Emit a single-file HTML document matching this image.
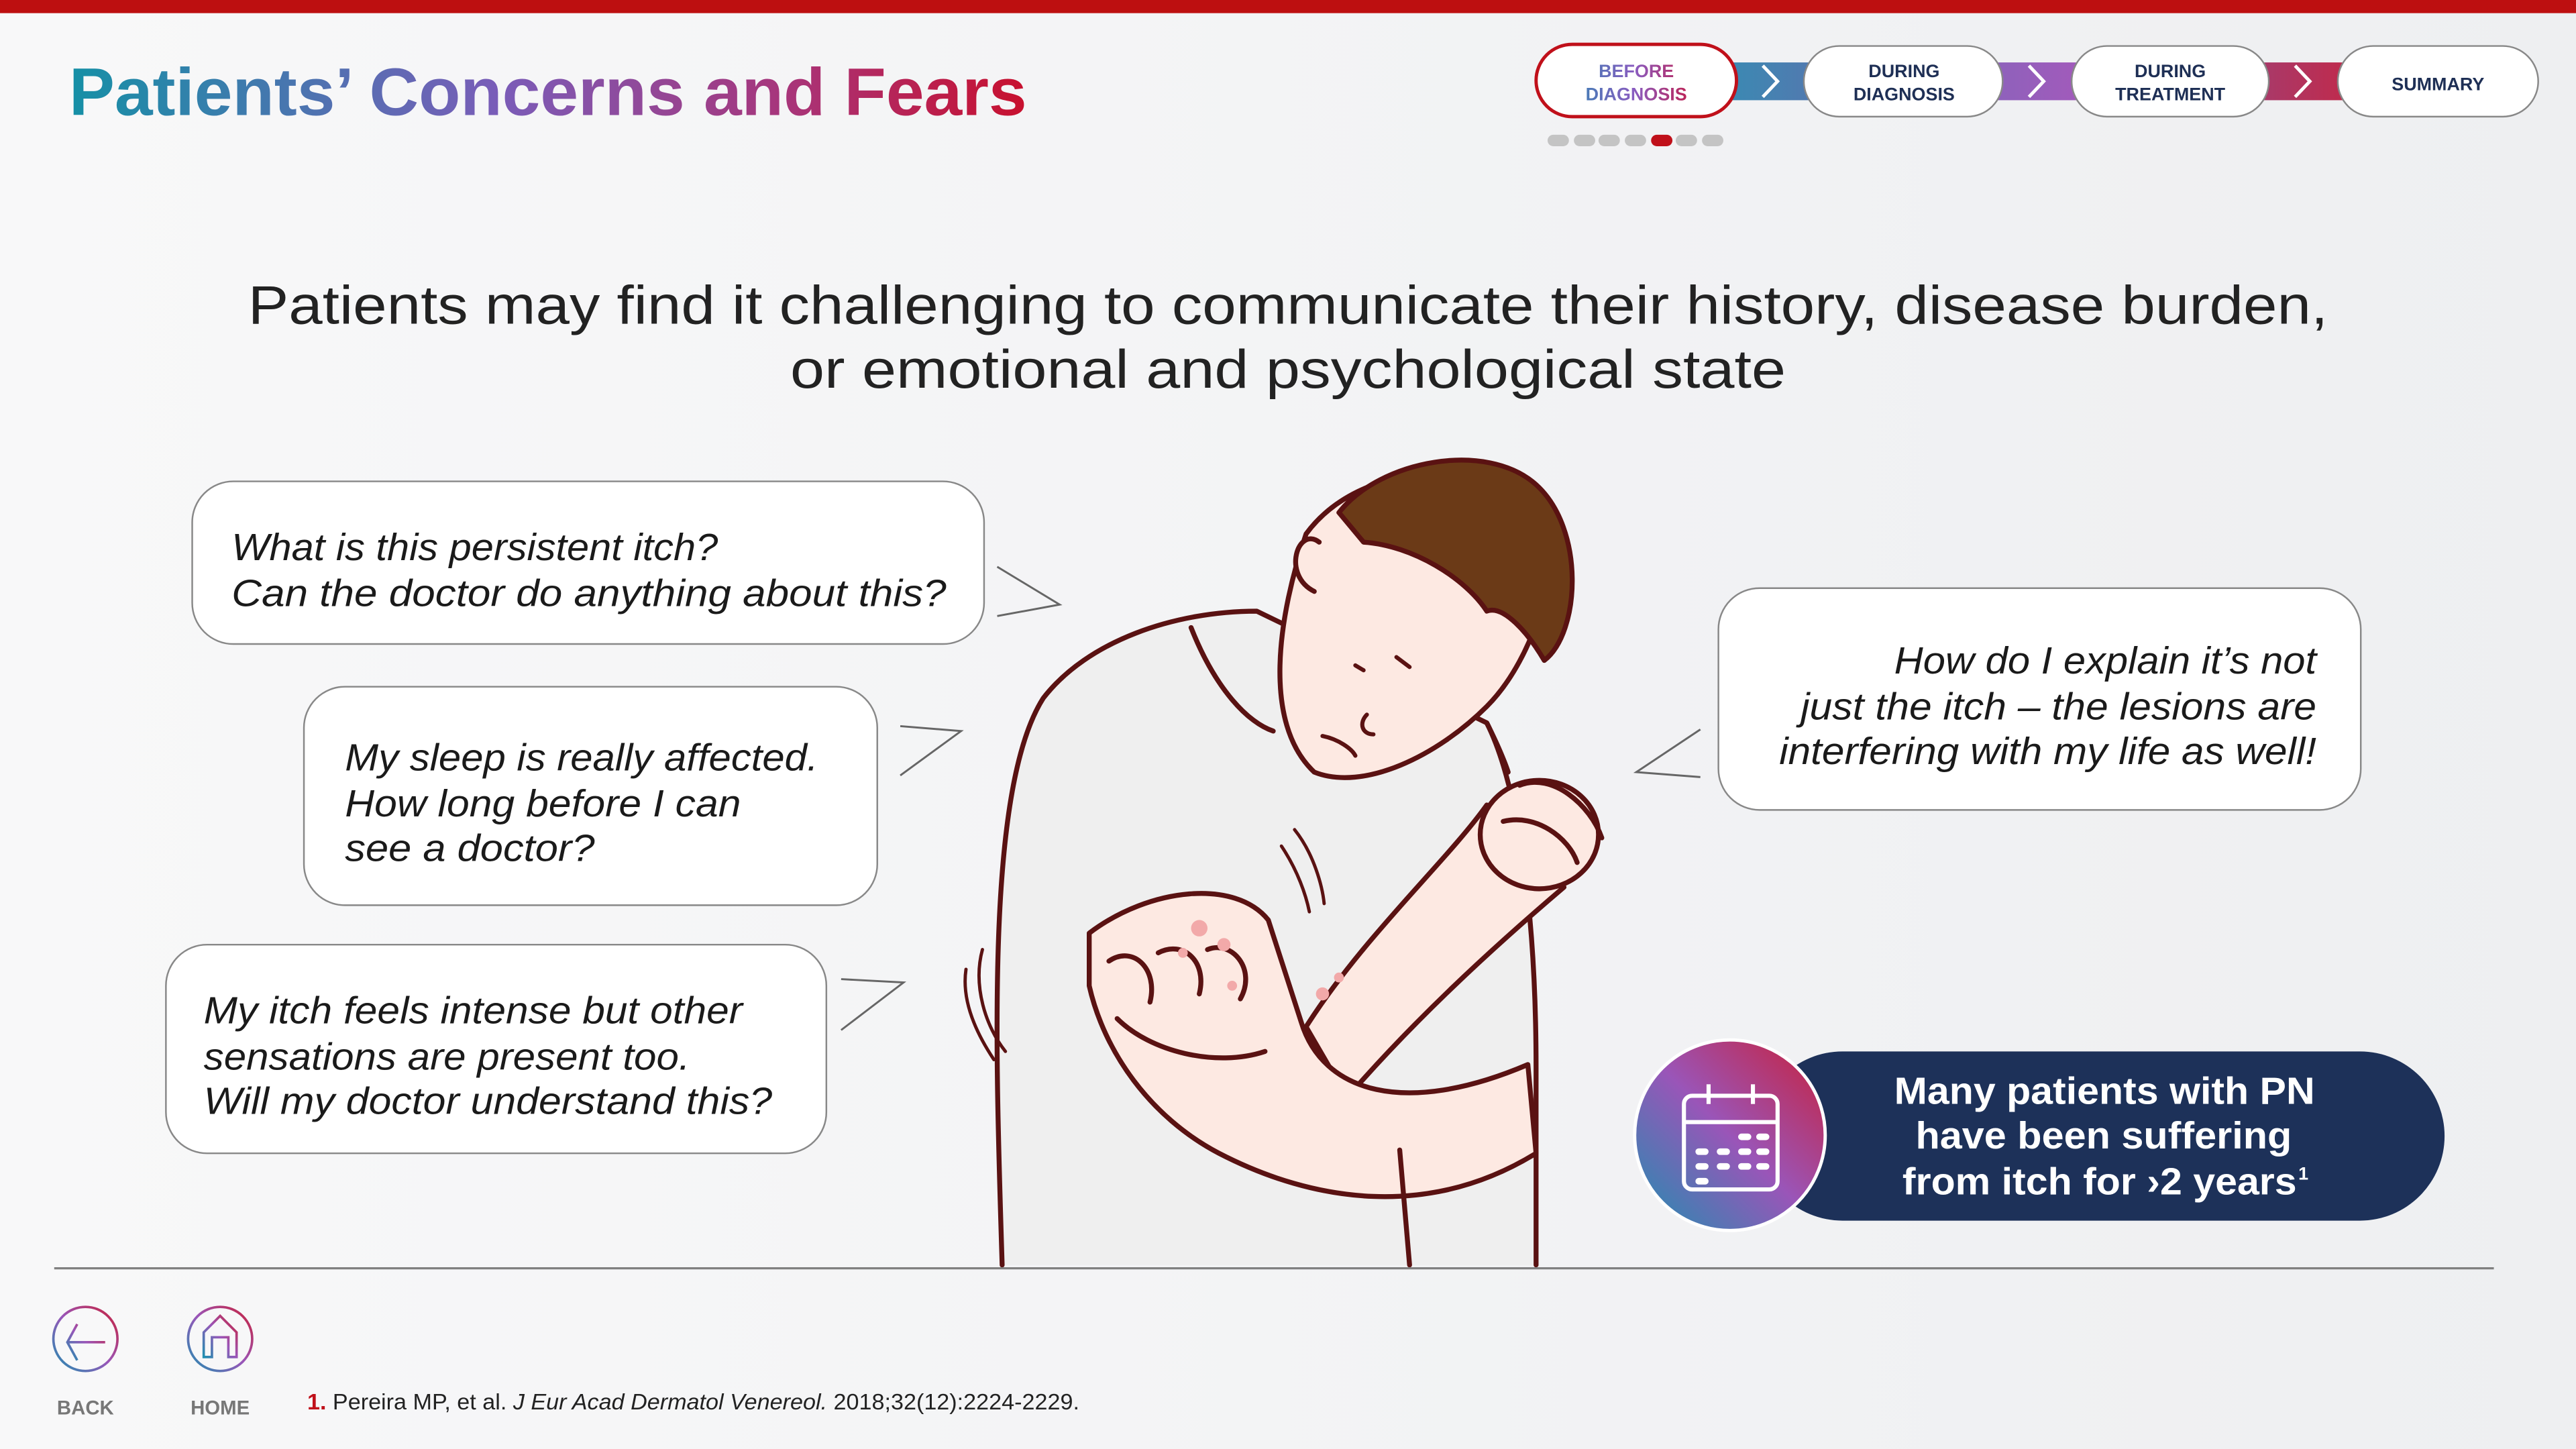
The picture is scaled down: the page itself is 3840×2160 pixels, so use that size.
<!DOCTYPE html>
<html><head><meta charset="utf-8"><style>
html,body{margin:0;padding:0;width:3840px;height:2160px;overflow:hidden;background:#f6f7f8}
svg{display:block}
text{font-family:"Liberation Sans",sans-serif}
</style></head><body>
<svg width="3840" height="2160" viewBox="0 0 1568 882" xmlns="http://www.w3.org/2000/svg">
<defs>
<linearGradient id="bg" x1="0" x2="1" y1="0" y2="0"><stop offset="0" stop-color="#f8f8f9"/><stop offset="1" stop-color="#eeeff1"/></linearGradient>
<linearGradient id="tg" gradientUnits="userSpaceOnUse" x1="42" x2="625" y1="0" y2="0"><stop offset="0" stop-color="#1590a6"/><stop offset="0.45" stop-color="#7a5cb8"/><stop offset="0.75" stop-color="#a8357a"/><stop offset="1" stop-color="#c8102e"/></linearGradient>
<linearGradient id="ng" gradientUnits="userSpaceOnUse" x1="960" x2="1030" y1="0" y2="0"><stop offset="0" stop-color="#3f7fb5"/><stop offset="0.5" stop-color="#8a5cc0"/><stop offset="1" stop-color="#c02050"/></linearGradient>
<linearGradient id="cg" x1="0" y1="1" x2="1" y2="0"><stop offset="0" stop-color="#1f8fb0"/><stop offset="0.5" stop-color="#9a55b8"/><stop offset="1" stop-color="#c8203a"/></linearGradient>
<linearGradient id="b1" x1="0" x2="1"><stop offset="0" stop-color="#3a8ab2"/><stop offset="1" stop-color="#5279b0"/></linearGradient>
<linearGradient id="b2" x1="0" x2="1"><stop offset="0" stop-color="#8d62bb"/><stop offset="1" stop-color="#a25abb"/></linearGradient>
<linearGradient id="b3" x1="0" x2="1"><stop offset="0" stop-color="#a83a6a"/><stop offset="1" stop-color="#c02a4c"/></linearGradient>
</defs>
<rect width="1568" height="882" fill="url(#bg)"/>
<rect width="1568" height="8" fill="#bd0f10"/>
<text x="42" y="70" font-size="41" font-weight="bold" fill="url(#tg)" textLength="583" lengthAdjust="spacingAndGlyphs">Patients’ Concerns and Fears</text>

<!-- nav -->
<rect x="1050" y="38" width="55" height="23" fill="url(#b1)"/>
<rect x="1212" y="38" width="55" height="23" fill="url(#b2)"/>
<rect x="1375" y="38" width="55" height="23" fill="url(#b3)"/>
<path d="M1073,40 L1082,49.5 L1073,59" stroke="#fff" stroke-width="2" fill="none"/>
<path d="M1235,40 L1244,49.5 L1235,59" stroke="#fff" stroke-width="2" fill="none"/>
<path d="M1397,40 L1406,49.5 L1397,59" stroke="#fff" stroke-width="2" fill="none"/>
<rect x="935" y="27" width="122" height="44" rx="22" fill="#fff" stroke="#c0101a" stroke-width="2"/>
<rect x="1098" y="28" width="121" height="43" rx="21.5" fill="#fff" stroke="#888" stroke-width="1"/>
<rect x="1261" y="28" width="120" height="43" rx="21.5" fill="#fff" stroke="#888" stroke-width="1"/>
<rect x="1423" y="28" width="122" height="43" rx="21.5" fill="#fff" stroke="#888" stroke-width="1"/>
<g font-size="11" font-weight="bold" text-anchor="middle">
<text x="996" y="47" fill="url(#ng)">BEFORE</text><text x="996" y="61" fill="url(#ng)">DIAGNOSIS</text>
<text x="1159" y="47" fill="#1e2f55">DURING</text><text x="1159" y="61" fill="#1e2f55">DIAGNOSIS</text>
<text x="1321" y="47" fill="#1e2f55">DURING</text><text x="1321" y="61" fill="#1e2f55">TREATMENT</text>
<text x="1484" y="55" fill="#1e2f55">SUMMARY</text>
</g>
<g fill="#c4c4c4"><rect x="942" y="82" width="13" height="7" rx="3.5"/><rect x="958" y="82" width="13" height="7" rx="3.5"/><rect x="973" y="82" width="13" height="7" rx="3.5"/><rect x="989" y="82" width="13" height="7" rx="3.5"/><rect x="1020" y="82" width="13" height="7" rx="3.5"/><rect x="1036" y="82" width="13" height="7" rx="3.5"/></g>
<rect x="1005" y="82" width="13" height="7" rx="3.5" fill="#c0101a"/>

<!-- headline -->
<g font-size="33" fill="#222">
<text x="151" y="197" textLength="1266" lengthAdjust="spacingAndGlyphs">Patients may find it challenging to communicate their history, disease burden,</text>
<text x="481" y="236" textLength="606" lengthAdjust="spacingAndGlyphs">or emotional and psychological state</text>
</g>

<!-- person -->
<path d="M610,770 C606,640 600,480 635,425 C662,390 715,372 765,372 L905,440 C925,480 935,560 935,650 L935,770 Z" fill="#efefef"/>
<g stroke="#5a1212" stroke-width="3" stroke-linejoin="round" stroke-linecap="round">
<path d="M610,770 C606,640 600,480 635,425 C662,390 715,372 765,372 L905,440 C925,480 935,560 935,650 L935,770" fill="none"/>
<path d="M795,325 C778,375 768,440 800,470 C830,482 875,460 905,430 C935,400 952,340 940,308 C905,278 828,280 795,325 Z" fill="#fde9e2"/>
<path d="M803,330 C790,320 780,350 800,360" fill="#fde9e2"/>
<path d="M815,312 C840,280 905,268 935,295 C965,322 962,385 940,402 C930,385 915,368 905,372 C892,352 860,332 830,330 Z" fill="#6b3a17"/>
<path d="M725,382 C740,420 760,440 775,445" fill="none"/>
<path d="M905,440 C915,460 918,470 918,470" fill="none"/>
<path d="M795,625 C830,570 880,525 905,490 L952,540 C905,580 860,622 820,668 Z" fill="#fde9e2"/>
<ellipse cx="937" cy="508" rx="36" ry="33" fill="#fde9e2"/>
<path d="M925,478 C945,470 968,490 975,510 M915,500 C935,495 955,510 960,525" fill="none"/>
<path d="M663,568 C700,540 752,535 772,560 L792,622 C805,665 855,680 930,648 L935,702 C870,742 800,732 742,702 C700,680 672,640 663,600 Z" fill="#fde9e2"/>
<path d="M675,585 C690,575 705,590 700,610 M705,580 C720,572 735,585 730,605 M735,578 C750,572 765,590 755,608 M680,620 C700,640 740,650 770,640" fill="none"/>
<path d="M858,770 L852,700" fill="none"/>
<path d="M598,578 C592,600 600,625 612,640 M588,590 C585,610 595,630 605,645 M780,515 C790,530 795,545 797,555 M788,505 C800,520 805,540 806,550" fill="none" stroke-width="2"/>
<path d="M825,405 l5,3 M850,400 l8,6 M832,435 c-5,5 -3,12 4,12 M805,448 c10,2 18,8 20,12" fill="none" stroke-width="2.5"/>
</g>
<g fill="#f2a9a9"><circle cx="730" cy="565" r="5"/><circle cx="745" cy="575" r="4"/><circle cx="720" cy="580" r="3"/><circle cx="805" cy="605" r="4"/><circle cx="815" cy="595" r="3"/><circle cx="750" cy="600" r="3"/></g>

<!-- bubbles -->
<g fill="#fff" stroke="#888" stroke-width="1">
<rect x="117" y="293" width="482" height="99" rx="25"/>
<rect x="185" y="418" width="349" height="133" rx="25"/>
<rect x="101" y="575" width="402" height="127" rx="25"/>
<rect x="1046" y="358" width="391" height="135" rx="25"/>
</g>
<g fill="none" stroke="#666" stroke-width="1.2">
<path d="M607,345 L645,368 L607,375"/>
<path d="M548,442 L585,445 L548,472"/>
<path d="M512,596 L550,598 L512,627"/>
<path d="M1035,444 L996,470 L1035,473"/>
</g>
<g font-size="23" font-style="italic" fill="#1a1a1a" lengthAdjust="spacingAndGlyphs">
<text x="141" y="341" textLength="296" lengthAdjust="spacingAndGlyphs">What is this persistent itch?</text>
<text x="141" y="369" textLength="435" lengthAdjust="spacingAndGlyphs">Can the doctor do anything about this?</text>
<text x="210" y="469" textLength="288" lengthAdjust="spacingAndGlyphs">My sleep is really affected.</text>
<text x="210" y="497" textLength="241" lengthAdjust="spacingAndGlyphs">How long before I can</text>
<text x="210" y="524" textLength="152" lengthAdjust="spacingAndGlyphs">see a doctor?</text>
<text x="124" y="623" textLength="328" lengthAdjust="spacingAndGlyphs">My itch feels intense but other</text>
<text x="124" y="651" textLength="296" lengthAdjust="spacingAndGlyphs">sensations are present too.</text>
<text x="124" y="678" textLength="346" lengthAdjust="spacingAndGlyphs">Will my doctor understand this?</text>
<text x="1153" y="410" textLength="257" lengthAdjust="spacingAndGlyphs">How do I explain it’s not</text>
<text x="1096" y="438" textLength="314" lengthAdjust="spacingAndGlyphs">just the itch – the lesions are</text>
<text x="1083" y="465" textLength="327" lengthAdjust="spacingAndGlyphs">interfering with my life as well!</text>
</g>

<!-- stat -->
<rect x="1070" y="640" width="418" height="103" rx="51.5" fill="#1d3159"/>
<circle cx="1053" cy="691" r="58" fill="url(#cg)" stroke="#fff" stroke-width="2"/>
<g fill="none" stroke="#fff" stroke-width="2.5">
<rect x="1025" y="667" width="57" height="57" rx="5"/>
<line x1="1025" y1="683" x2="1082" y2="683"/>
<line x1="1040" y1="660" x2="1040" y2="672"/><line x1="1067" y1="660" x2="1067" y2="672"/>
</g>
<g fill="#fff"><rect x="1058" y="690" width="8" height="4" rx="2"/><rect x="1069" y="690" width="8" height="4" rx="2"/>
<rect x="1032" y="699" width="8" height="4" rx="2"/><rect x="1045" y="699" width="8" height="4" rx="2"/><rect x="1058" y="699" width="8" height="4" rx="2"/><rect x="1069" y="699" width="8" height="4" rx="2"/>
<rect x="1032" y="708" width="8" height="4" rx="2"/><rect x="1045" y="708" width="8" height="4" rx="2"/><rect x="1058" y="708" width="8" height="4" rx="2"/><rect x="1069" y="708" width="8" height="4" rx="2"/>
<rect x="1032" y="717" width="8" height="4" rx="2"/></g>
<g font-size="23" font-weight="bold" fill="#fff">
<text x="1153" y="672" textLength="256" lengthAdjust="spacingAndGlyphs">Many patients with PN</text>
<text x="1166" y="699" textLength="229" lengthAdjust="spacingAndGlyphs">have been suffering</text>
<text x="1158" y="727" textLength="240" lengthAdjust="spacingAndGlyphs">from itch for ›2 years</text>
<text x="1399" y="718" font-size="11">1</text>
</g>

<!-- footer -->
<line x1="33" y1="772" x2="1518" y2="772" stroke="#808080" stroke-width="1.3"/>
<circle cx="52" cy="815" r="19.5" fill="none" stroke="url(#cg)" stroke-width="1.5"/>
<path d="M47,806 L41,817 L47,828 M41,817 L64,817" fill="none" stroke="url(#cg)" stroke-width="1.5"/>
<circle cx="134" cy="815" r="19.5" fill="none" stroke="url(#cg)" stroke-width="1.5"/>
<path d="M124,826 L124,811 L134,801 L144,811 L144,826 L139,826 L139,814 L129,814 L129,826 Z" fill="none" stroke="url(#cg)" stroke-width="1.5"/>
<g font-size="12" font-weight="bold" fill="#777" text-anchor="middle"><text x="52" y="861">BACK</text><text x="134" y="861">HOME</text></g>
<text x="187" y="858" font-size="13.5" fill="#222" textLength="470" lengthAdjust="spacingAndGlyphs"><tspan fill="#c0101a" font-weight="bold">1.</tspan> Pereira MP, et al. <tspan font-style="italic">J Eur Acad Dermatol Venereol.</tspan> 2018;32(12):2224-2229.</text>
</svg>
</body></html>
